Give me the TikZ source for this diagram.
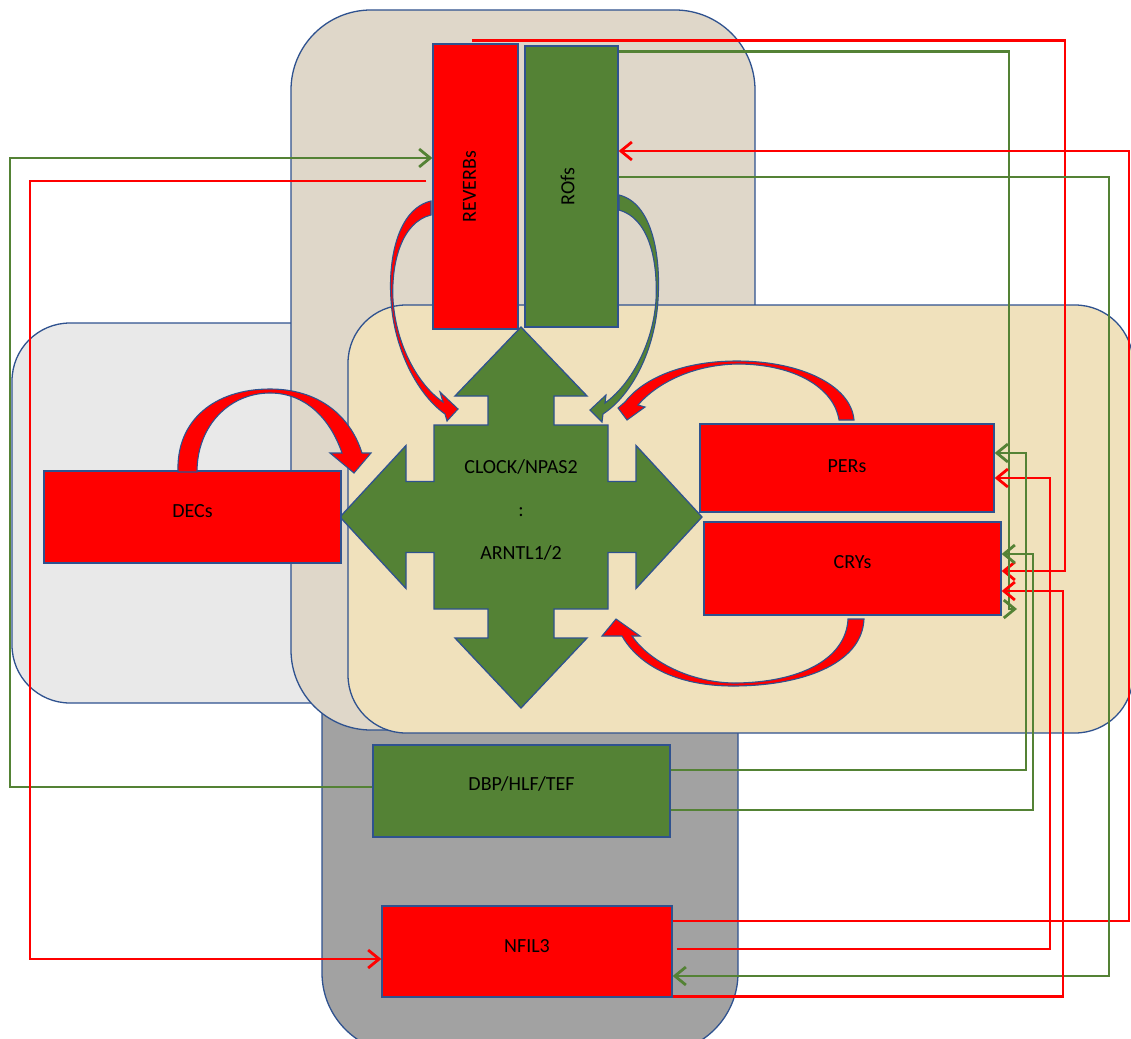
\documentclass[tikz,border=0pt]{standalone}
\usepackage{fontspec}
\setmainfont{Carlito}
\usetikzlibrary{arrows.meta}
\definecolor{bordblue}{HTML}{2F528F}
\definecolor{boxred}{HTML}{FF0000}
\definecolor{boxgreen}{HTML}{548235}
\definecolor{topfill}{HTML}{DFD7C9}
\definecolor{leftfill}{HTML}{E9E9E9}
\definecolor{rightfill}{HTML}{F0E1BC}
\definecolor{botfill}{HTML}{A2A2A2}
\begin{document}
\begin{tikzpicture}[x=1pt,y=-1pt,
  region/.style={draw=bordblue,line width=1.3pt},
  blk/.style={draw=bordblue,line width=1.3pt,inner sep=0pt,font=\fontsize{20}{24}\selectfont},
  redblk/.style={blk,fill=boxred},
  grnblk/.style={blk,fill=boxgreen},
  curv/.style={draw=bordblue,line width=1.1pt,fill=boxred},
  curvg/.style={draw=bordblue,line width=1.1pt,fill=boxgreen},
  rl/.style={draw=boxred,line width=2.8pt},
  gl/.style={draw=boxgreen,line width=2.8pt},
  tipv/.style={-{Straight Barb[length=11pt,width=18pt]}},
  lbl/.style={font=\fontsize{20}{24}\selectfont,inner sep=0pt}
]
\useasboundingbox (0,0) rectangle (1131,1038);

% background regions
\path[region,fill=leftfill,rounded corners=58pt] (12,323) rectangle (400,703);
\path[region,fill=botfill] (322,690) -- (322,973) .. controls (322,1017) and (358,1053) .. (402,1053)
  -- (658,1053) .. controls (702,1053) and (738,1017) .. (738,973) -- (738,690) -- cycle;
\path[region,fill=topfill,rounded corners=80pt] (291,10) rectangle (755,730);
\path[region,fill=rightfill,rounded corners=58pt] (348,305) rectangle (1133,733);

% central four-way arrow
\path[region,fill=boxgreen] (521,327) -- (587,396) -- (554,396) -- (554,425) -- (608,425) -- (608,481.5)
  -- (636,481.5) -- (636,445.5) -- (702,517) -- (636,588.5) -- (636,552.5) -- (608,552.5) -- (608,609)
  -- (554,609) -- (554,638) -- (587,638) -- (521,708) -- (455,638) -- (488,638) -- (488,609)
  -- (434,609) -- (434,552.5) -- (406,552.5) -- (406,588.5) -- (340,517) -- (406,445.5) -- (406,481.5)
  -- (434,481.5) -- (434,425) -- (488,425) -- (488,396) -- (455,396) -- cycle;
\node[lbl,align=center,font=\fontsize{20}{43}\selectfont] (core) at (521,510) {CLOCK/NPAS2\\:\\ARNTL1/2};

% boxes
\node[redblk,minimum width=85pt,minimum height=285pt] (reverbs) at (475.5,186.5) {};
\node[lbl,rotate=90] (reverbsT) at ([xshift=-6pt]reverbs.center) {REVERBs};
\node[grnblk,minimum width=93pt,minimum height=281pt] (rofs) at (571.5,186.5) {};
\node[lbl,rotate=90] (rofsT) at ([xshift=-4pt]rofs.center) {ROfs};
\node[redblk,minimum width=297pt,minimum height=92pt] (decs) at (192.5,517) {\raisebox{12pt}{DECs}};
\node[redblk,minimum width=294pt,minimum height=88pt] (pers) at (847,468) {\raisebox{4pt}{PERs}};
\node[redblk,minimum width=297pt,minimum height=93pt] (crys) at (852.5,568.5) {\raisebox{12pt}{CRYs}};
\node[grnblk,minimum width=297pt,minimum height=92pt] (dbp) at (521.5,791) {\raisebox{14pt}{DBP/HLF/TEF}};
\node[redblk,minimum width=290pt,minimum height=91pt] (nfil3) at (527,951.5) {\raisebox{12pt}{NFIL3}};

% curved block arrows
\path[curv] (178,472) .. controls (176,420) and (215,389) .. (270,389) .. controls (318,389) and (350,415) .. (362,453)
  -- (371,453) -- (354,473) -- (330,453) -- (342,453)
  .. controls (330,418) and (305,393) .. (270,393) .. controls (230,393) and (197,425) .. (197,472) -- cycle;
\path[curv] (431,201) .. controls (398,209) and (388,258) .. (391,300) .. controls (394,350) and (418,395) .. (445,414)
  -- (447,421) -- (458,409) -- (440,392) -- (443,402)
  .. controls (418,385) and (396,345) .. (393,300) .. controls (391,262) and (402,222) .. (431,215) -- cycle;
\path[curvg] (619,195) .. controls (652,203) and (661,255) .. (658,300) .. controls (655,350) and (632,395) .. (603,414)
  -- (602,422) -- (590,410) -- (606,395) -- (605,403)
  .. controls (630,385) and (653,345) .. (656,300) .. controls (658,258) and (648,218) .. (619,210) -- cycle;
\path[curv] (854,420) .. controls (851,385) and (800,361) .. (737,361) .. controls (680,361) and (642,380) .. (625,402)
  -- (618,408) -- (627,420) -- (645,407) -- (638,405)
  .. controls (655,385) and (690,365) .. (737,364) .. controls (795,364) and (834,388) .. (839,420) -- cycle;
\path[curv] (864,619) .. controls (862,665) and (800,686) .. (733,686) .. controls (675,686) and (638,664) .. (622,636)
  -- (602,636) -- (616,619) -- (640,636) -- (632,636)
  .. controls (650,662) and (690,682) .. (733,683) .. controls (798,683) and (846,660) .. (848,619) -- cycle;

% connectors
\coordinate (gend) at (1017,609);
\draw[gl,tipv] ([yshift=4pt]dbp.west) -| (10,158) -- ([yshift=28.5pt]reverbs.west);
\draw[rl,tipv] ([xshift=-6pt,yshift=5.5pt]reverbs.west) -| (30,959) -- ([yshift=-7.5pt]nfil3.west);
\draw[rl,tipv] ([xshift=-3.5pt,yshift=3pt]reverbs.north) -| (1065,571) -- ([yshift=-2.5pt]crys.east);
\draw[gl,tipv] ([yshift=-6pt]rofs.north east) -| ([xshift=-8pt]gend) -- (gend);
\draw[rl,tipv] ([yshift=30.5pt]nfil3.east) -| (1129,151) -- ([yshift=35.5pt]rofs.east);
\draw[gl,tipv] ([yshift=9.5pt]rofs.east) -| (1109,976) -- ([yshift=-24.5pt]nfil3.east);
\draw[rl,tipv] ([xshift=4pt,yshift=2.5pt]nfil3.east) -| (1050,478) -- ([yshift=-10pt]pers.east);
\draw[rl,tipv] ([yshift=-45pt]nfil3.east) -| (1063,591) -- ([yshift=-22.5pt]crys.east);
\draw[gl,tipv] ([yshift=21pt]dbp.east) -| (1026,453) -- ([yshift=15pt]pers.east);
\draw[gl,tipv] ([yshift=-19pt]dbp.east) -| (1033,554) -- ([yshift=14.5pt]crys.east);
\end{tikzpicture}
\end{document}
